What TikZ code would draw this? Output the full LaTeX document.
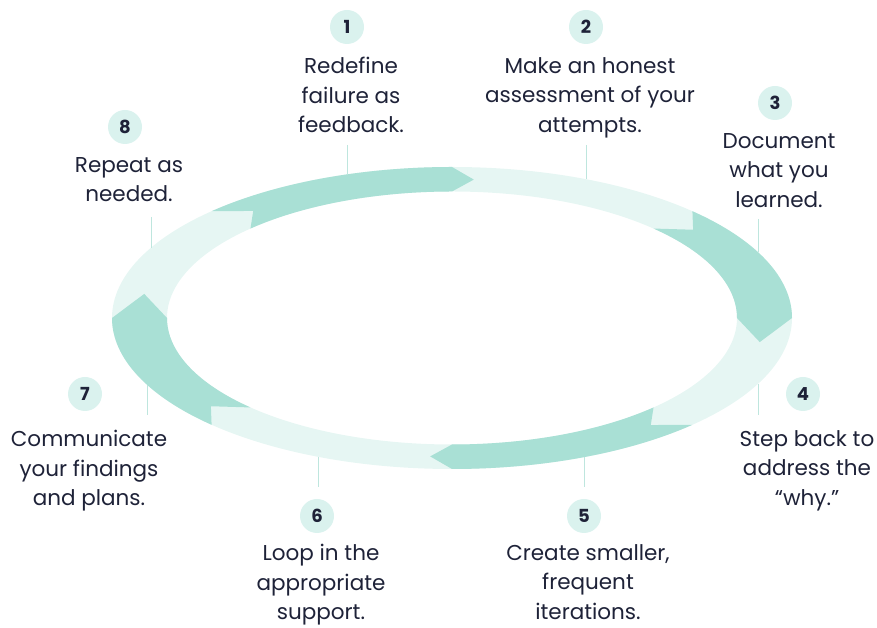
\documentclass[tikz,border=0pt]{standalone}
\usepackage{fontspec}
\setmainfont{Poppins}
\usepackage{tikz}
\usetikzlibrary{positioning}

\definecolor{ringdark}{RGB}{169,224,213}
\definecolor{ringlight}{RGB}{230,246,243}
\definecolor{numfill}{RGB}{218,242,238}
\definecolor{ink}{RGB}{30,34,56}
\definecolor{tickline}{RGB}{190,230,222}

\begin{document}
\begin{tikzpicture}[
    x=1pt, y=1pt,
    num/.style={circle, fill=numfill, minimum size=34pt, inner sep=0pt, text=ink, font=\bfseries\fontsize{18}{18}\selectfont},
    lbl/.style={align=center, text=ink, inner sep=0pt, xshift=4pt, font=\fontsize{21.5}{29.4}\selectfont},
    tick/.style={draw=tickline, line width=1pt}
]
\useasboundingbox (0,0) rectangle (877,628);

% Ring of arrows
\begin{scope}[shift={(452,310)}]
\fill[ringlight, even odd rule] (0,0) ellipse [x radius=340pt, y radius=151pt]
    (0,0) ellipse [x radius=285pt, y radius=126.5pt];
\foreach \t/\dt/\dh in {135/5.5/4, 45/5.5/10, -45/5.5/4, -135/5.5/10}{
    \pgfmathsetmacro{\h}{\t-45}
    \fill[ringdark] (\t:340pt and 151pt) arc[start angle=\t, end angle=\h, x radius=340pt, y radius=151pt]
        -- (\h-\dh:312.5pt and 138.75pt) -- (\h:285pt and 126.5pt)
        arc[start angle=\h, end angle=\t, x radius=285pt, y radius=126.5pt]
        -- (\t-\dt:312.5pt and 138.75pt) -- cycle;
}
\end{scope}

% Steps
\node[num] (n1) at (347,601) {1};
\node[lbl, below=13pt of n1] (t1) {Redefine\\failure as\\feedback.};
\node[num] (n2) at (586,601) {2};
\node[lbl, below=13pt of n2] (t2) {Make an honest\\assessment of your\\attempts.};
\node[num] (n3) at (775,525) {3};
\node[lbl, below=13pt of n3] (t3) {Document\\what you\\learned.};
\node[num] (n4) at (803,234) {4};
\node[lbl, below=19pt of n4] (t4) {Step back to\\address the\\“why.”};
\node[num] (n5) at (584,112) {5};
\node[lbl, below=11pt of n5] (t5) {Create smaller,\\frequent\\iterations.};
\node[num] (n6) at (317,112) {6};
\node[lbl, below=11pt of n6] (t6) {Loop in the\\appropriate\\support.};
\node[num] (n7) at (85,234) {7};
\node[lbl, below=19pt of n7] (t7) {Communicate\\your findings\\and plans.};
\node[num] (n8) at (125,501) {8};
\node[lbl, below=13pt of n8] (t8) {Repeat as\\needed.};

% Ticks to the ring
\coordinate (r1) at (347,454); \coordinate (e1) at (347,483);
\coordinate (r2) at (586,449); \coordinate (e2) at (586,483);
\coordinate (r3) at (758,376); \coordinate (e3) at (758,409);
\coordinate (r4) at (758,244); \coordinate (e4) at (758,213);
\coordinate (r5) at (584,171); \coordinate (e5) at (584,141);
\coordinate (r6) at (318,171); \coordinate (e6) at (318,141);
\coordinate (r7) at (147,243); \coordinate (e7) at (147,213);
\coordinate (r8) at (151,380); \coordinate (e8) at (151,411);
\foreach \i in {1,...,8}
    \draw[tick] (e\i) -- (r\i);

\end{tikzpicture}
\end{document}
